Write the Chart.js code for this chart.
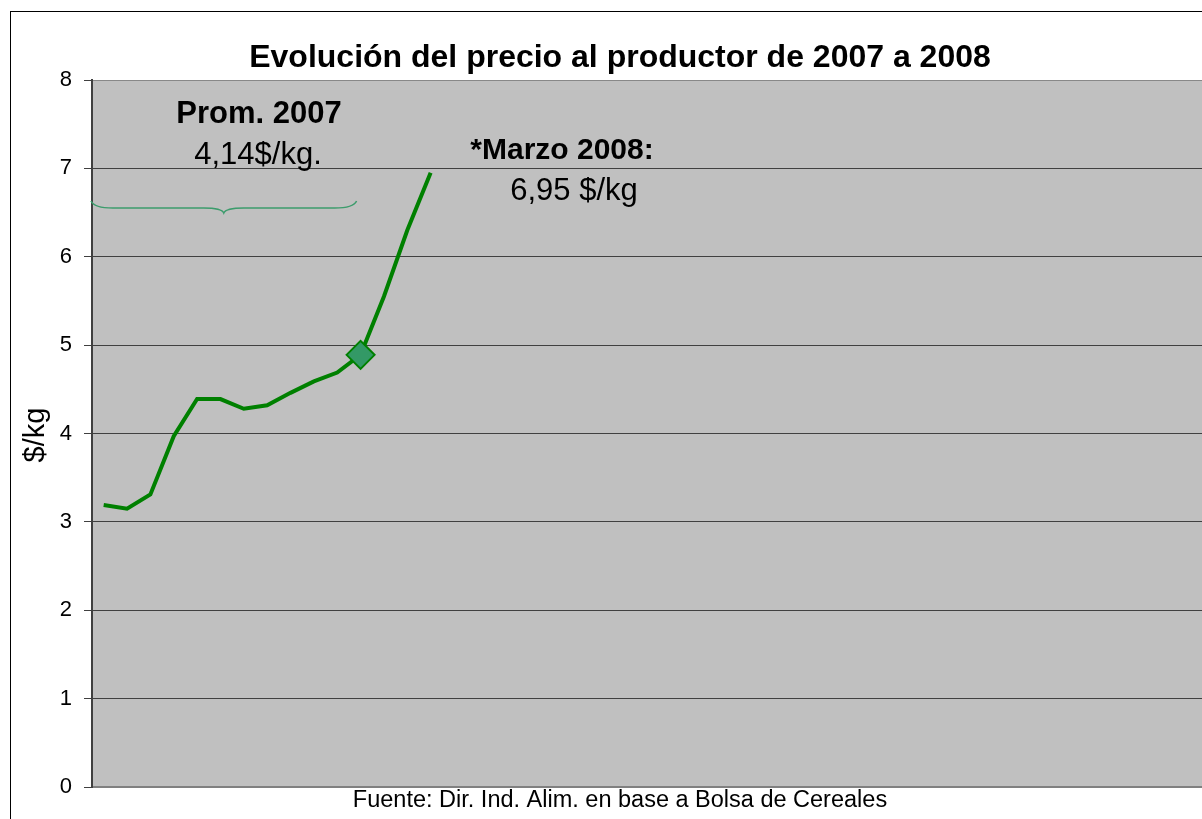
<!DOCTYPE html>
<html>
<head>
<meta charset="utf-8">
<script src="https://cdn.jsdelivr.net/npm/chart.js@4.4.1/dist/chart.umd.min.js"></script>
<style>
  html, body { margin: 0; padding: 0; background: #fff; overflow: hidden; }
  #wrap { position: absolute; left: 0; top: 0; width: 1230px; height: 819px; }
</style>
</head>
<body>
<div id="wrap"><canvas id="precio" width="1230" height="819"></canvas></div>
<script>
// meses ene-2007 .. dic-2010 (solo se ven los 15 primeros)
var months = ['Ene', 'Feb', 'Mar', 'Abr', 'May', 'Jun', 'Jul', 'Ago', 'Sep', 'Oct', 'Nov', 'Dic'];
var years = ['07', '08', '09', '10'];
var labels = [];
years.forEach(function (y) { months.forEach(function (m) { labels.push(m + '-' + y); }); });

var precio = [3.19, 3.15, 3.31, 3.97, 4.39, 4.39, 4.28, 4.32, 4.46, 4.59, 4.69, 4.89, 5.55, 6.30, 6.95];
var yTicks = [0, 1, 2, 3, 4, 5, 6, 7, 8];
var promIdx = 11; // dic-07, marcado con rombo

var FONT = "'Liberation Sans', Arial, sans-serif";

var textos = {
  id: 'textos',
  beforeDraw: function (chart) {
    var c = chart.ctx, a = chart.chartArea;
    c.save();
    c.fillStyle = '#c0c0c0';
    c.fillRect(a.left, a.top, a.right - a.left, a.bottom - a.top);
    // marco exterior
    c.strokeStyle = '#000';
    c.lineWidth = 1;
    c.strokeRect(10.5, 11.5, 1300, 900);
    c.restore();
  },
  afterDraw: function (chart) {
    var c = chart.ctx, x = chart.scales.x;
    c.save();
    c.fillStyle = '#000';
    c.textAlign = 'center';
    c.textBaseline = 'alphabetic';
    c.font = 'bold 32px ' + FONT;
    c.fillText('Evolución del precio al productor de 2007 a 2008', 620, 67);

    c.font = 'bold 31px ' + FONT;
    c.fillText('Prom. 2007', 259, 123);
    c.font = '31px ' + FONT;
    c.fillText('4,14$/kg.', 258, 164);

    c.font = 'bold 30px ' + FONT;
    c.fillText('*Marzo 2008:', 562, 159);
    c.font = '31px ' + FONT;
    c.fillText('6,95 $/kg', 574, 200);

    c.font = '23.5px ' + FONT;
    c.fillText('Fuente: Dir. Ind. Alim. en base a Bolsa de Cereales', 620, 807);

    // eje y
    c.save();
    c.translate(36, 435);
    c.rotate(-Math.PI / 2);
    c.textBaseline = 'middle';
    c.font = '29px ' + FONT;
    c.fillText('$/kg', 0, 0);
    c.restore();

    // llave sobre 2007
    var x0 = chart.chartArea.left - 1, x1 = x.getPixelForValue(promIdx) - 4;
    var xm = (x0 + x1) / 2, y0 = 201, y1 = 208, y2 = 213;
    c.strokeStyle = '#3c9c6c';
    c.lineWidth = 1.5;
    c.beginPath();
    c.moveTo(x0, y0);
    c.quadraticCurveTo(x0 + 3, y1, x0 + 22, y1);
    c.lineTo(xm - 20, y1);
    c.quadraticCurveTo(xm - 2, y1, xm, y2);
    c.quadraticCurveTo(xm + 2, y1, xm + 20, y1);
    c.lineTo(x1 - 22, y1);
    c.quadraticCurveTo(x1 - 3, y1, x1, y0);
    c.stroke();
    c.restore();
  }
};

new Chart(document.getElementById('precio'), {
  type: 'line',
  data: {
    labels: labels,
    datasets: [{
      data: precio,
      borderColor: '#008000',
      borderWidth: 4,
      tension: 0,
      pointStyle: 'rectRot',
      pointRadius: function (ctx) { return ctx.dataIndex === promIdx ? 14 : 0; },
      pointHoverRadius: function (ctx) { return ctx.dataIndex === promIdx ? 14 : 0; },
      pointBackgroundColor: '#339966',
      pointBorderColor: '#008000',
      pointBorderWidth: 2
    }]
  },
  options: {
    responsive: false,
    animation: false,
    layout: { padding: { left: 0, top: 80, right: 17, bottom: 32 } },
    plugins: { legend: { display: false }, title: { display: false }, tooltip: { enabled: false } },
    scales: {
      x: {
        offset: true,
        grid: { display: false, drawTicks: false },
        ticks: { display: false },
        border: { color: '#808080', width: 2 }
      },
      y: {
        min: 0,
        max: 8,
        afterFit: function (s) { s.width = 92; },
        afterBuildTicks: function (s) { s.ticks = yTicks.map(function (v) { return { value: v }; }); },
        grid: {
          color: function (ctx) { return ctx.tick && ctx.tick.value === 8 ? '#888' : '#404040'; },
          tickColor: '#404040',
          tickLength: 8,
          lineWidth: 1
        },
        border: { color: '#404040', width: 2 },
        ticks: { color: '#000', font: { family: FONT, size: 22 }, padding: 12 }
      }
    }
  },
  plugins: [textos]
});
</script>
</body>
</html>
